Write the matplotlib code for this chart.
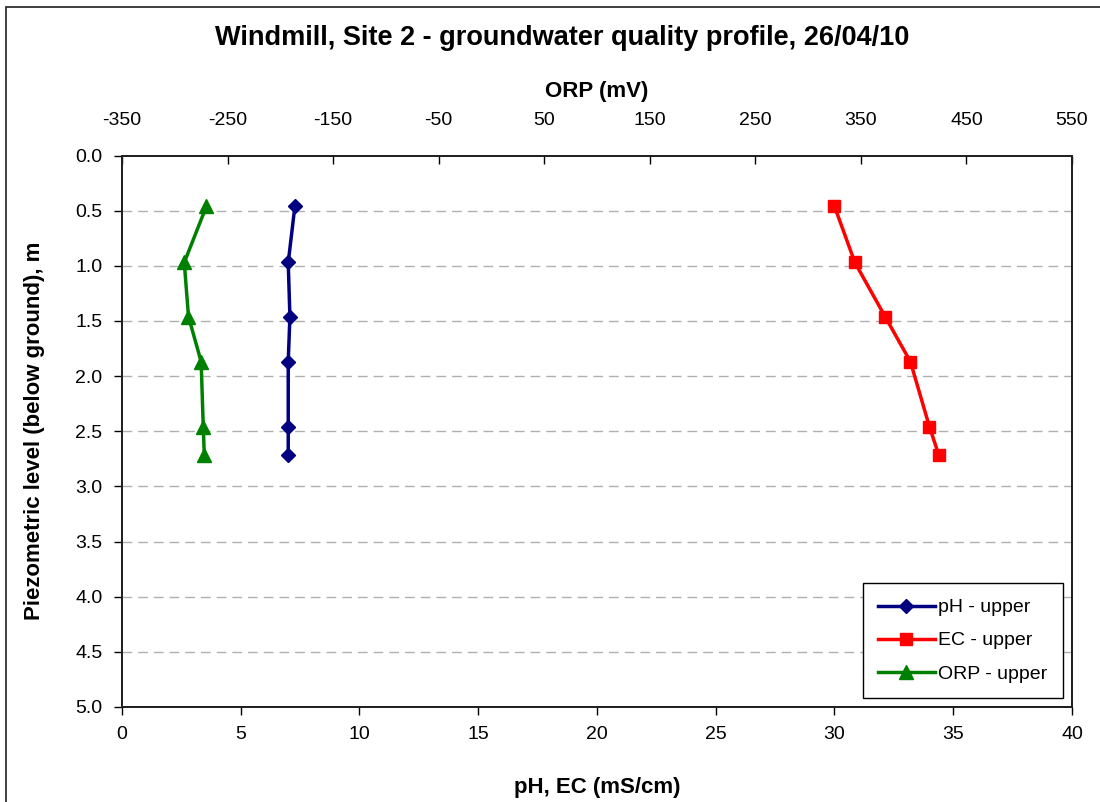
import matplotlib.pyplot as plt
from matplotlib.patches import Rectangle

plt.rcParams["font.family"] = ["Liberation Sans", "DejaVu Sans"]
plt.rcParams["axes.unicode_minus"] = False

# depth of each sample below ground (m)
depth = [0.46, 0.97, 1.46, 1.87, 2.46, 2.72]
ph_upper = [7.28, 7.00, 7.07, 7.00, 7.00, 7.00]
ec_upper = [30.0, 30.86, 32.13, 33.2, 34.0, 34.4]
orp_upper = [-270, -291, -287, -275, -273, -272]

bottom_ticks = [0, 5, 10, 15, 20, 25, 30, 35, 40]
top_ticks = [-350, -250, -150, -50, 50, 150, 250, 350, 450, 550]
depth_ticks = [0.0, 0.5, 1.0, 1.5, 2.0, 2.5, 3.0, 3.5, 4.0, 4.5, 5.0]

fig = plt.figure(figsize=(11, 8.02), dpi=100)
ax = fig.add_axes([0.1109, 0.1185, 0.8636, 0.6876])

for y in depth_ticks[1:-1]:
    ax.axhline(y, color="#b0b0b0", linewidth=1.0, linestyle=(0, (7, 4.3)), zorder=0)

ph_line, = ax.plot(ph_upper, depth, color="#000080", linewidth=2.5, marker="D",
                   markersize=7.5, label="pH - upper")
ec_line, = ax.plot(ec_upper, depth, color="#ff0000", linewidth=2.5, marker="s",
                   markersize=8.5, label="EC - upper")

ax.set_xlim(0, 40)
ax.set_ylim(5.0, 0.0)
ax.set_xticks(bottom_ticks)
ax.set_yticks(depth_ticks)
ax.set_yticklabels([f"{v:.1f}" for v in depth_ticks])
ax.tick_params(axis="both", labelsize=14, direction="out", length=6, width=1, pad=8)
ax.set_xlabel("pH, EC (mS/cm)", fontsize=16, fontweight="bold", labelpad=24)
ax.set_ylabel("Piezometric level (below ground), m", fontsize=16, fontweight="bold",
              labelpad=22)

top = ax.twiny()
orp_line, = top.plot(orp_upper, depth, color="#008000", linewidth=2.5, marker="^",
                     markersize=10.5, label="ORP - upper")
top.set_xlim(-350, 550)
top.set_ylim(5.0, 0.0)
top.set_xticks(top_ticks)
top.tick_params(axis="x", labelsize=14, direction="in", length=6, width=1, pad=19)
top.set_xlabel("ORP (mV)", fontsize=16, fontweight="bold", labelpad=11)

for a in (ax, top):
    for side in a.spines.values():
        side.set_linewidth(1.3)
        side.set_color("#202020")

top.legend(handles=[ph_line, ec_line, orp_line], loc="lower right", fontsize=14,
           fancybox=False, edgecolor="black", framealpha=1, handlelength=2.9,
           borderpad=0.8, borderaxespad=0.45, labelspacing=0.8, handletextpad=0.2)

fig.suptitle("Windmill, Site 2 - groundwater quality profile, 26/04/10",
             fontsize=19.5, fontweight="bold", x=0.511, y=0.969)

fig.patches.append(Rectangle((6 / 1100, -0.05), 1.2, 1 - 7 / 802 + 0.05,
                             transform=fig.transFigure, fill=False,
                             edgecolor="#303030", linewidth=1.3))

fig.savefig("out.png", dpi=100)
